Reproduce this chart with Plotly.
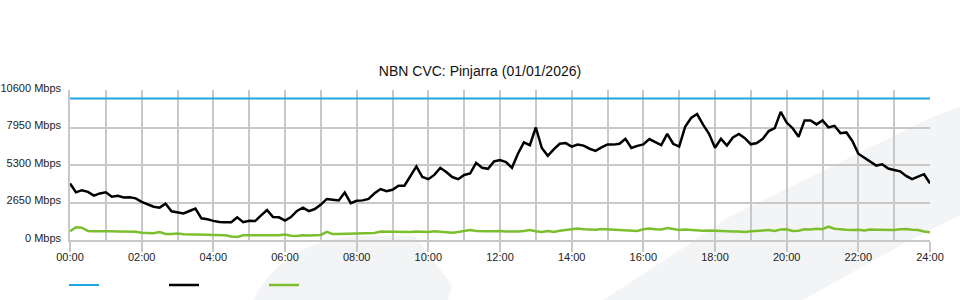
import plotly.graph_objects as go

# 10-minute samples, 00:00 .. 24:00 (145 points)
step_minutes = 10
capacity_mbps = 10000

traffic_in = [
    4000, 3370, 3520, 3400, 3140, 3290, 3370, 3060, 3120, 3000, 3015, 2945,
    2700, 2530, 2350, 2285, 2560, 2030, 1980, 1880, 2050, 2220, 1530, 1470,
    1350, 1270, 1250, 1250, 1600, 1260, 1360, 1340, 1740, 2110, 1620, 1600,
    1370, 1620, 2050, 2280, 2040, 2190, 2500, 2900, 2850, 2800, 3360, 2600,
    2770, 2800, 2900, 3300, 3600, 3450, 3550, 3830, 3840, 4500, 5200, 4450,
    4300, 4600, 5100, 4800, 4450, 4300, 4600, 4700, 5450, 5100, 5030, 5550,
    5650, 5500, 5100, 6100, 6900, 6700, 7950, 6500, 5950, 6400, 6800, 6850,
    6600, 6750, 6670, 6450, 6300, 6550, 6750, 6740, 6800, 7150, 6500, 6650,
    6750, 7130, 6900, 6700, 7500, 6800, 6600, 8000, 8620, 8900, 8150, 7500,
    6520, 7150, 6670, 7250, 7500, 7200, 6760, 6850, 7150, 7700, 7900, 9050,
    8300, 7900, 7300, 8450, 8450, 8170, 8450, 7960, 8070, 7550, 7600, 7000,
    6100, 5820, 5600, 5260, 5350, 5050, 4950, 4850, 4530, 4300, 4480, 4650,
    4000,
]

traffic_out = [
    620, 900, 870, 640, 620, 600, 600, 610, 600, 590, 590, 590,
    520, 500, 480, 560, 430, 430, 460, 400, 380, 380, 380, 370,
    360, 370, 330, 250, 220, 330, 330, 350, 320, 370, 340, 330,
    380, 300, 290, 340, 320, 330, 360, 580, 420, 420, 430, 430,
    440, 440, 480, 500, 600, 590, 560, 580, 540, 570, 600, 590,
    560, 620, 600, 580, 520, 570, 620, 700, 630, 600, 620, 620,
    640, 600, 580, 600, 640, 700, 620, 560, 640, 560, 650, 700,
    720, 820, 760, 740, 720, 780, 760, 740, 720, 700, 640, 640,
    760, 820, 760, 740, 840, 760, 700, 740, 700, 680, 660, 680,
    660, 600, 620, 600, 600, 560, 620, 650, 660, 700, 640, 750,
    760, 640, 660, 760, 740, 800, 760, 940, 800, 740, 720, 700,
    720, 680, 740, 730, 720, 700, 700, 760, 780, 720, 700, 600,
    540,
]

y_ticks = [0, 2650, 5300, 7950, 10600]
y_tick_labels = ["0 Mbps", "2650 Mbps", "5300 Mbps", "7950 Mbps", "10600 Mbps"]
x_ticks = [0, 2, 4, 6, 8, 10, 12, 14, 16, 18, 20, 22, 24]
x_tick_labels = ["00:00", "02:00", "04:00", "06:00", "08:00", "10:00", "12:00",
                 "14:00", "16:00", "18:00", "20:00", "22:00", "24:00"]

hours = [i * step_minutes / 60 for i in range(len(traffic_in))]
capacity = [capacity_mbps] * len(hours)

BLUE = "#1ea6e0"
BLACK = "#000000"
GREEN = "#7cbf2e"
GRID = "#c8c8c8"
FONT = "Liberation Sans, Arial, sans-serif"

fig = go.Figure()
fig.add_trace(go.Scatter(x=hours, y=capacity, mode="lines", name="",
                         line=dict(color=BLUE, width=2.2)))
fig.add_trace(go.Scatter(x=hours, y=traffic_in, mode="lines", name="",
                         line=dict(color=BLACK, width=2.5)))
fig.add_trace(go.Scatter(x=hours, y=traffic_out, mode="lines", name="",
                         line=dict(color=GREEN, width=2.5)))

WM = "#f3f4f6"
fig.add_shape(type="path", xref="paper", yref="paper", layer="below",
              path="M 0.2128,-0.4 Q 0.25,0.01 0.34,0.027 L 0.401,0.027 "
                   "L 0.444,-0.3 L 0.4395,-0.4 Z",
              fillcolor=WM, line=dict(width=0))
fig.add_shape(type="path", xref="paper", yref="paper", layer="below",
              path="M 0.6198,-0.4 L 0.7093,-0.0667 L 0.7663,0.1533 "
                   "L 0.9081,0.5533 L 1.0,0.8133 L 1.0349,0.8867 "
                   "L 1.0349,0.1667 L 0.9767,0.0 L 0.8523,-0.4 Z",
              fillcolor=WM, line=dict(width=0))

fig.update_layout(
    width=960, height=300,
    margin=dict(l=70, r=30, t=90, b=60, autoexpand=False),
    paper_bgcolor="white", plot_bgcolor="white",
    font=dict(family=FONT, size=11, color="#222222"),
    title=dict(text="NBN CVC: Pinjarra (01/01/2026)", x=0.5, xanchor="center",
               y=1 - 71 / 300, yanchor="middle", yref="container",
               font=dict(size=14, color="#111111")),
    showlegend=True,
    legend=dict(orientation="h", x=-6 / 860, xanchor="left", y=1 - 285 / 300,
                yanchor="middle", yref="container",
                entrywidth=55, entrywidthmode="pixels",
                font=dict(size=11), bgcolor="rgba(0,0,0,0)", itemclick=False),
    xaxis=dict(range=[0, 24], tickvals=x_ticks, ticktext=x_tick_labels,
               showgrid=True, gridcolor=GRID, gridwidth=1.5,
               ticks="outside", ticklen=10, tickcolor=GRID, tickwidth=1.5,
               ticklabelstandoff=-4,
               minor=dict(dtick=1, showgrid=True, gridcolor=GRID, gridwidth=1.5),
               showline=True, linecolor=GRID, linewidth=2,
               zeroline=False, fixedrange=True, automargin=False),
    yaxis=dict(range=[0, 10600], tickvals=y_ticks, ticktext=y_tick_labels,
               showgrid=True, gridcolor=GRID, gridwidth=2,
               ticks="", ticklabelstandoff=5, ticklabelshift=-2,
               showline=True, linecolor=GRID, linewidth=1.5,
               zeroline=False, fixedrange=True, automargin=False),
)

fig.write_html("out.html")
